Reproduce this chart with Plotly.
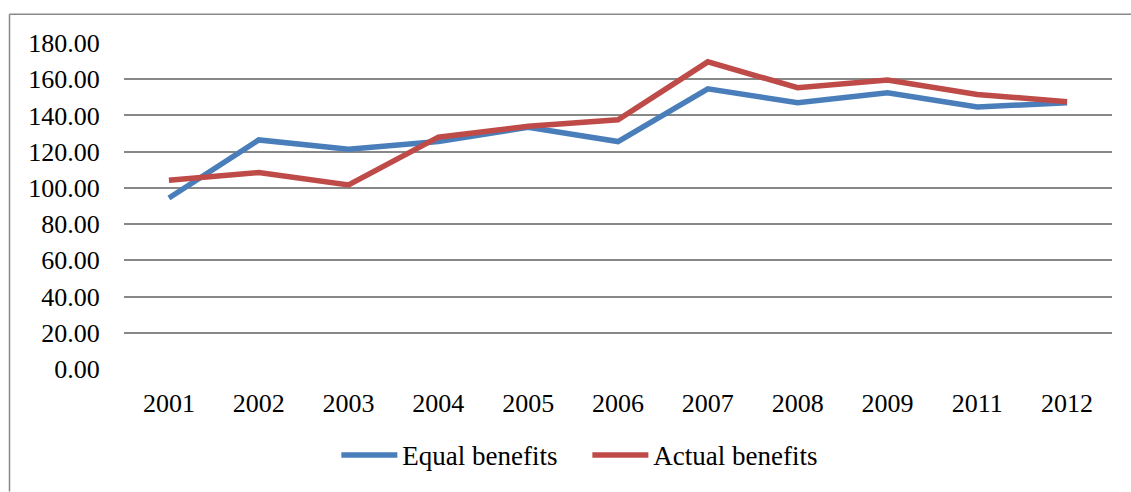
import plotly.graph_objects as go

years = ["2001", "2002", "2003", "2004", "2005", "2006", "2007", "2008", "2009", "2011", "2012"]
equal_benefits = [94.4, 126.5, 121.3, 125.6, 133.5, 125.6, 154.7, 147.0, 152.5, 144.7, 147.0]
actual_benefits = [104.2, 108.5, 101.6, 128.0, 134.0, 137.6, 169.6, 155.3, 159.5, 151.6, 147.6]
y_ticks = [0, 20, 40, 60, 80, 100, 120, 140, 160, 180]

W, H = 1131, 492
L, R, T, B = 124, 19, 43, 119
pw, ph = W - L - R, H - T - B

fig = go.Figure()
fig.add_trace(go.Scatter(x=years, y=equal_benefits, mode="lines", name="Equal benefits",
                         line=dict(color="#4A7EBB", width=5.5)))
fig.add_trace(go.Scatter(x=years, y=actual_benefits, mode="lines", name="Actual benefits",
                         line=dict(color="#BE4B48", width=5.5)))

font = dict(family="Liberation Serif", size=26, color="#000000")

fig.update_layout(
    width=W, height=H,
    margin=dict(l=L, r=R, t=T, b=B),
    paper_bgcolor="white", plot_bgcolor="white",
    font=font,
    showlegend=True,
    legend=dict(orientation="h", x=0.469, xanchor="center", y=-0.265, yanchor="middle",
                font=dict(family=font["family"], size=27, color="#000"),
                itemwidth=56, entrywidth=180, entrywidthmode="pixels",
                tracegroupgap=0, bgcolor="rgba(0,0,0,0)"),
    xaxis=dict(type="category", range=[-0.5, 10.5], showgrid=False, zeroline=False,
               showline=False, ticks="outside", ticklen=11, tickcolor="rgba(0,0,0,0)",
               tickfont=font),
    yaxis=dict(range=[0, 180], tickvals=y_ticks, ticktext=[f"{v:.2f}" for v in y_ticks],
               showgrid=True, gridcolor="#888888", gridwidth=1.5, zeroline=False,
               showline=False, ticks="outside", ticklen=18, tickcolor="rgba(0,0,0,0)",
               tickfont=font),
    shapes=[
        dict(type="line", xref="paper", yref="paper",
             x0=(9.5 - L) / pw, x1=(W + 5 - L) / pw,
             y0=(H - B - 14) / ph, y1=(H - B - 14) / ph,
             line=dict(color="#888888", width=1.5)),
        dict(type="line", xref="paper", yref="paper",
             x0=(9.5 - L) / pw, x1=(9.5 - L) / pw,
             y0=(H - B - 14) / ph, y1=(H - B - H - 5) / ph,
             line=dict(color="#888888", width=1.5)),
    ],
)

fig.write_html("out.html")
